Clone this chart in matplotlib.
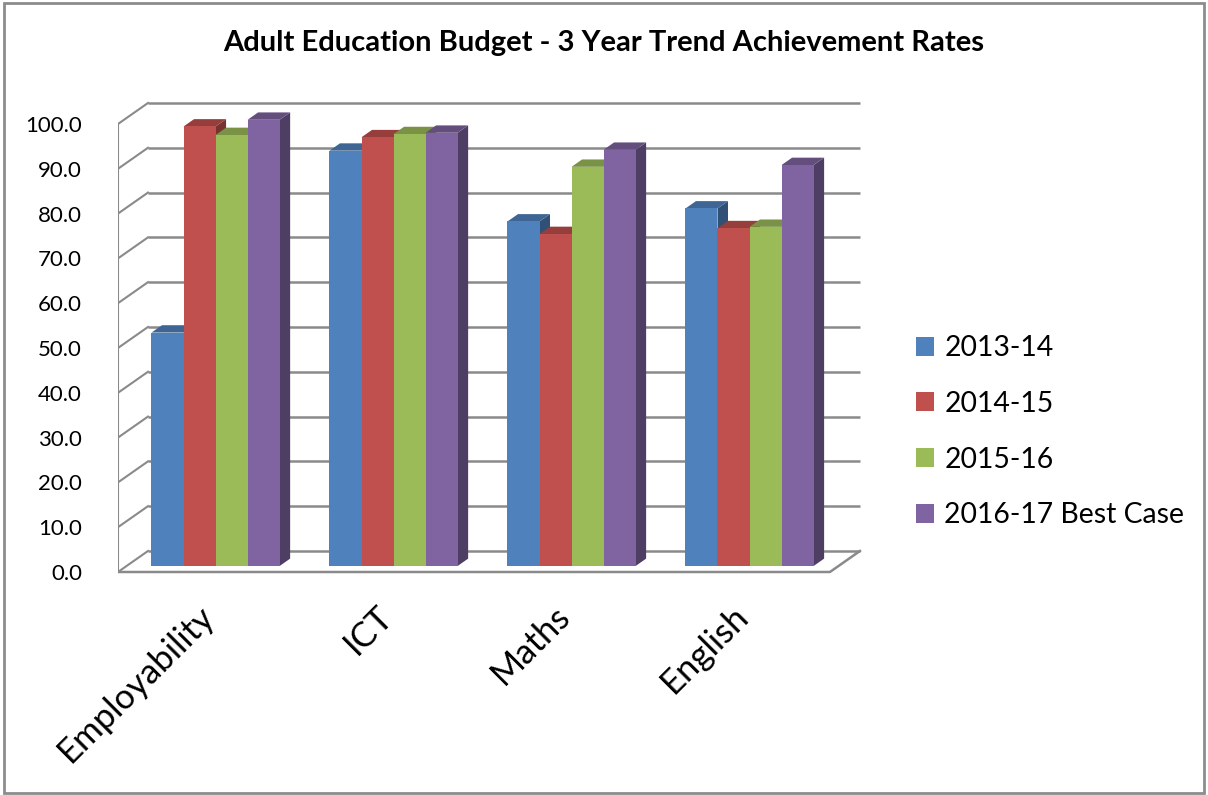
import matplotlib.pyplot as plt
import numpy as np
from matplotlib.patches import Polygon, Rectangle, Patch

plt.rcParams['font.family'] = ['Lato', 'DejaVu Sans']

# data
categories = ['Employability', 'ICT', 'Maths', 'English']
series = ['2013-14', '2014-15', '2015-16', '2016-17 Best Case']
rate_2013 = [52.1, 92.7, 76.9, 79.8]
rate_2014 = [98.1, 95.7, 74.1, 75.4]
rate_2015 = [96.2, 96.4, 89.1, 75.7]
rate_2016 = [99.6, 96.7, 92.9, 89.5]
values = [rate_2013, rate_2014, rate_2015, rate_2016]
yticks = np.arange(0, 101, 10)

colors = ['#4F81BD', '#C0504D', '#9BBB59', '#8064A2']

def shade(c, k):
    c = np.array(plt.matplotlib.colors.to_rgb(c))
    return tuple(c * k)

# oblique 3d look: depth goes back and to the right
DX, DY = 0.1685, 4.69          # full depth of the plot box
FX, FY = 0.286 * DX, 0.286 * DY  # where bar fronts sit
BX, BY = 0.35 * DX, 0.35 * DY    # bar depth
bar_w = 0.18
grid_c = '#8a8a8a'

fig = plt.figure(figsize=(12.08, 7.95), dpi=100)
ax = fig.add_axes([118 / 1208, 205 / 795, 752 / 1208, 495 / 795])
ax.set_xlim(-0.5, 3.725)
ax.set_ylim(-4.02, 106.47)
for s in ax.spines.values():
    s.set_visible(False)

# walls and floor
x0, x1 = -0.5, 3.5
for v in yticks:
    ax.plot([x0 + DX, x1 + DX], [v + DY, v + DY], color=grid_c, lw=1.8, zorder=1,
            solid_capstyle='butt')
    ax.plot([x0, x0 + DX], [v, v + DY], color=grid_c, lw=1.5, zorder=1)
ax.plot([x0, x0], [0, 100], color=grid_c, lw=1.5, zorder=1)
ax.plot([x0, x1, x1 + DX], [0, 0, DY], color=grid_c, lw=1.8, zorder=1)

# bars, drawn left to right so later fronts hide earlier sides
for i in range(len(categories)):
    for k in range(len(series)):
        v = values[k][i]
        xl = i - 2 * bar_w + k * bar_w + FX
        xr = xl + bar_w
        yb = FY
        yt = FY + v
        z = 3 + i * 10 + k
        side = Polygon([(xr, yb), (xr + BX, yb + BY), (xr + BX, yt + BY), (xr, yt)],
                       closed=True, fc=shade(colors[k], 0.62), ec='none', zorder=z)
        top = Polygon([(xl, yt), (xr, yt), (xr + BX, yt + BY), (xl + BX, yt + BY)],
                      closed=True, fc=shade(colors[k], 0.78), ec='none', zorder=z)
        ax.add_patch(side)
        ax.add_patch(top)
        ax.bar(xl, v, width=bar_w, bottom=yb, align='edge', color=colors[k],
               lw=0, zorder=z + 0.5)

ax.set_yticks(yticks)
ax.set_yticklabels([f'{t:.1f}' for t in yticks], fontsize=16)
ax.tick_params(axis='y', length=0, pad=26)
ax.set_xticks([])
for i, name in enumerate(categories):
    ax.text(i - 0.05, -6.2, name, rotation=45, ha='right', va='top',
            rotation_mode='anchor', fontsize=25, clip_on=False)

fig.suptitle('Adult Education Budget - 3 Year Trend Achievement Rates',
             x=0.5, y=0.962, fontsize=21, fontweight='bold')

handles = [Patch(facecolor=c, edgecolor='none') for c in colors]
fig.legend(handles, series, loc='center left', bbox_to_anchor=(0.737, 0.457),
           frameon=False, fontsize=20.4, handlelength=0.66, handleheight=0.66,
           handletextpad=0.35, labelspacing=1.05)

fig.patches.append(Rectangle((0.003, 0.003), 0.994, 0.993, transform=fig.transFigure,
                             fill=False, ec='#8c8c8c', lw=2))

fig.savefig('out.png', dpi=100)
